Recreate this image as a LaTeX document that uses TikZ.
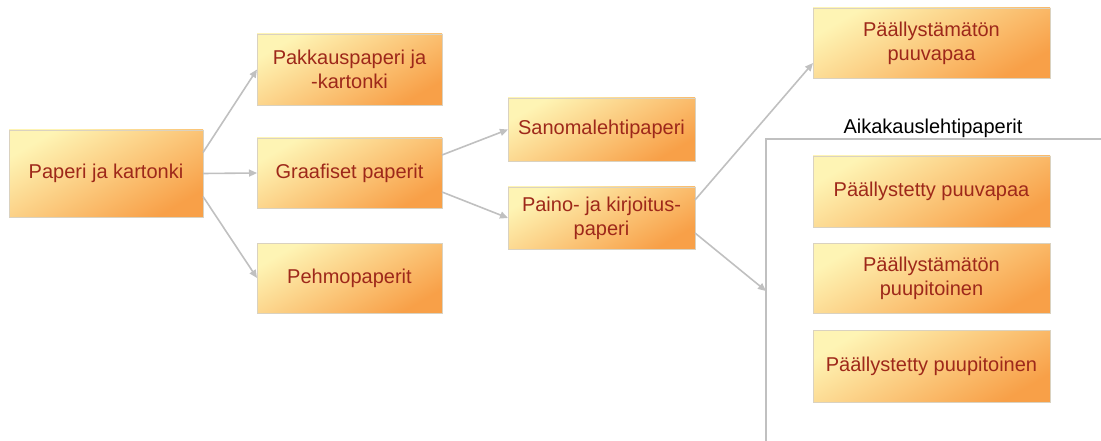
\documentclass[tikz,border=0pt]{standalone}
\usepackage{fontspec}
\setmainfont{Liberation Sans}
\usetikzlibrary{arrows.meta,calc}
\definecolor{boxtext}{RGB}{158,40,26}
\definecolor{boxedge}{RGB}{218,210,192}
\definecolor{fillpale}{RGB}{254,244,180}
\definecolor{fillmid}{RGB}{252,212,140}
\definecolor{filldeep}{RGB}{248,160,72}
\definecolor{linkgray}{RGB}{192,192,192}
\tikzset{
  paperbox/.style={draw=boxedge, line width=0.9pt, rectangle, inner sep=0pt, outer sep=0pt,
    top color=fillpale, middle color=fillmid, bottom color=filldeep, shading angle=30,
    text=boxtext, font=\fontsize{20}{24}\selectfont, align=center},
  link/.style={draw=linkgray, line width=1.6pt, -{Triangle[length=8pt,width=7pt]}},
  frame/.style={draw=linkgray, line width=1.3pt}
}
\begin{document}
\begin{tikzpicture}[x=1pt,y=-1pt]
  \useasboundingbox (0,0) rectangle (1101,441);
  % main categories
  \node[paperbox, minimum width=194pt, minimum height=87pt] (pk) at (106,173.5) {Paperi ja kartonki};
  \node[paperbox, minimum width=185pt, minimum height=71pt] (pak) at (349.5,69.5) {Pakkauspaperi ja\\-kartonki};
  \node[paperbox, minimum width=185pt, minimum height=70pt] (gr) at (349.5,173) {Graafiset paperit};
  \node[paperbox, minimum width=185pt, minimum height=70pt] (peh) at (349.5,278) {Pehmopaperit};
  % graphic papers
  \node[paperbox, minimum width=187pt, minimum height=63pt] (san) at (601.5,129.5) {Sanomalehtipaperi};
  \node[paperbox, minimum width=187pt, minimum height=62pt] (paino) at (601.5,218) {Paino- ja kirjoitus-\\paperi};
  % printing and writing papers
  \node[paperbox, minimum width=237pt, minimum height=70pt] (pp) at (931.5,43) {Päällystämätön\\puuvapaa};
  \node[paperbox, minimum width=237pt, minimum height=71pt] (ps1) at (931.5,191.5) {Päällystetty puuvapaa};
  \node[paperbox, minimum width=237pt, minimum height=70pt] (ps2) at (931.5,278) {Päällystämätön\\puupitoinen};
  \node[paperbox, minimum width=237pt, minimum height=72pt] (ps3) at (931.5,366) {Päällystetty puupitoinen};
  % magazine paper group
  \coordinate (frTR) at (1101,139);
  \coordinate (frTL) at (766,139);
  \coordinate (frBL) at (766,441);
  \coordinate (frIn) at (766,291);
  \draw[frame] (frTR) -- (frTL) -- (frBL);
  \node[anchor=base, font=\fontsize{20}{24}\selectfont] (mag) at (933,134) {Aikakauslehtipaperit};
  % connectors
  \draw[link] ([yshift=21pt]pk.east) -- (pak.west);
  \draw[link] (pk.east) -- (gr.west);
  \draw[link] ([yshift=-23pt]pk.east) -- (peh.west);
  \draw[link] ([yshift=18pt]gr.east) -- (san.west);
  \draw[link] ([yshift=-19pt]gr.east) -- (paino.west);
  \draw[link] ([yshift=18pt]paino.east) -- ([yshift=-20pt]pp.west);
  \draw[link] ([yshift=-15pt]paino.east) -- (frIn);
\end{tikzpicture}
\end{document}
